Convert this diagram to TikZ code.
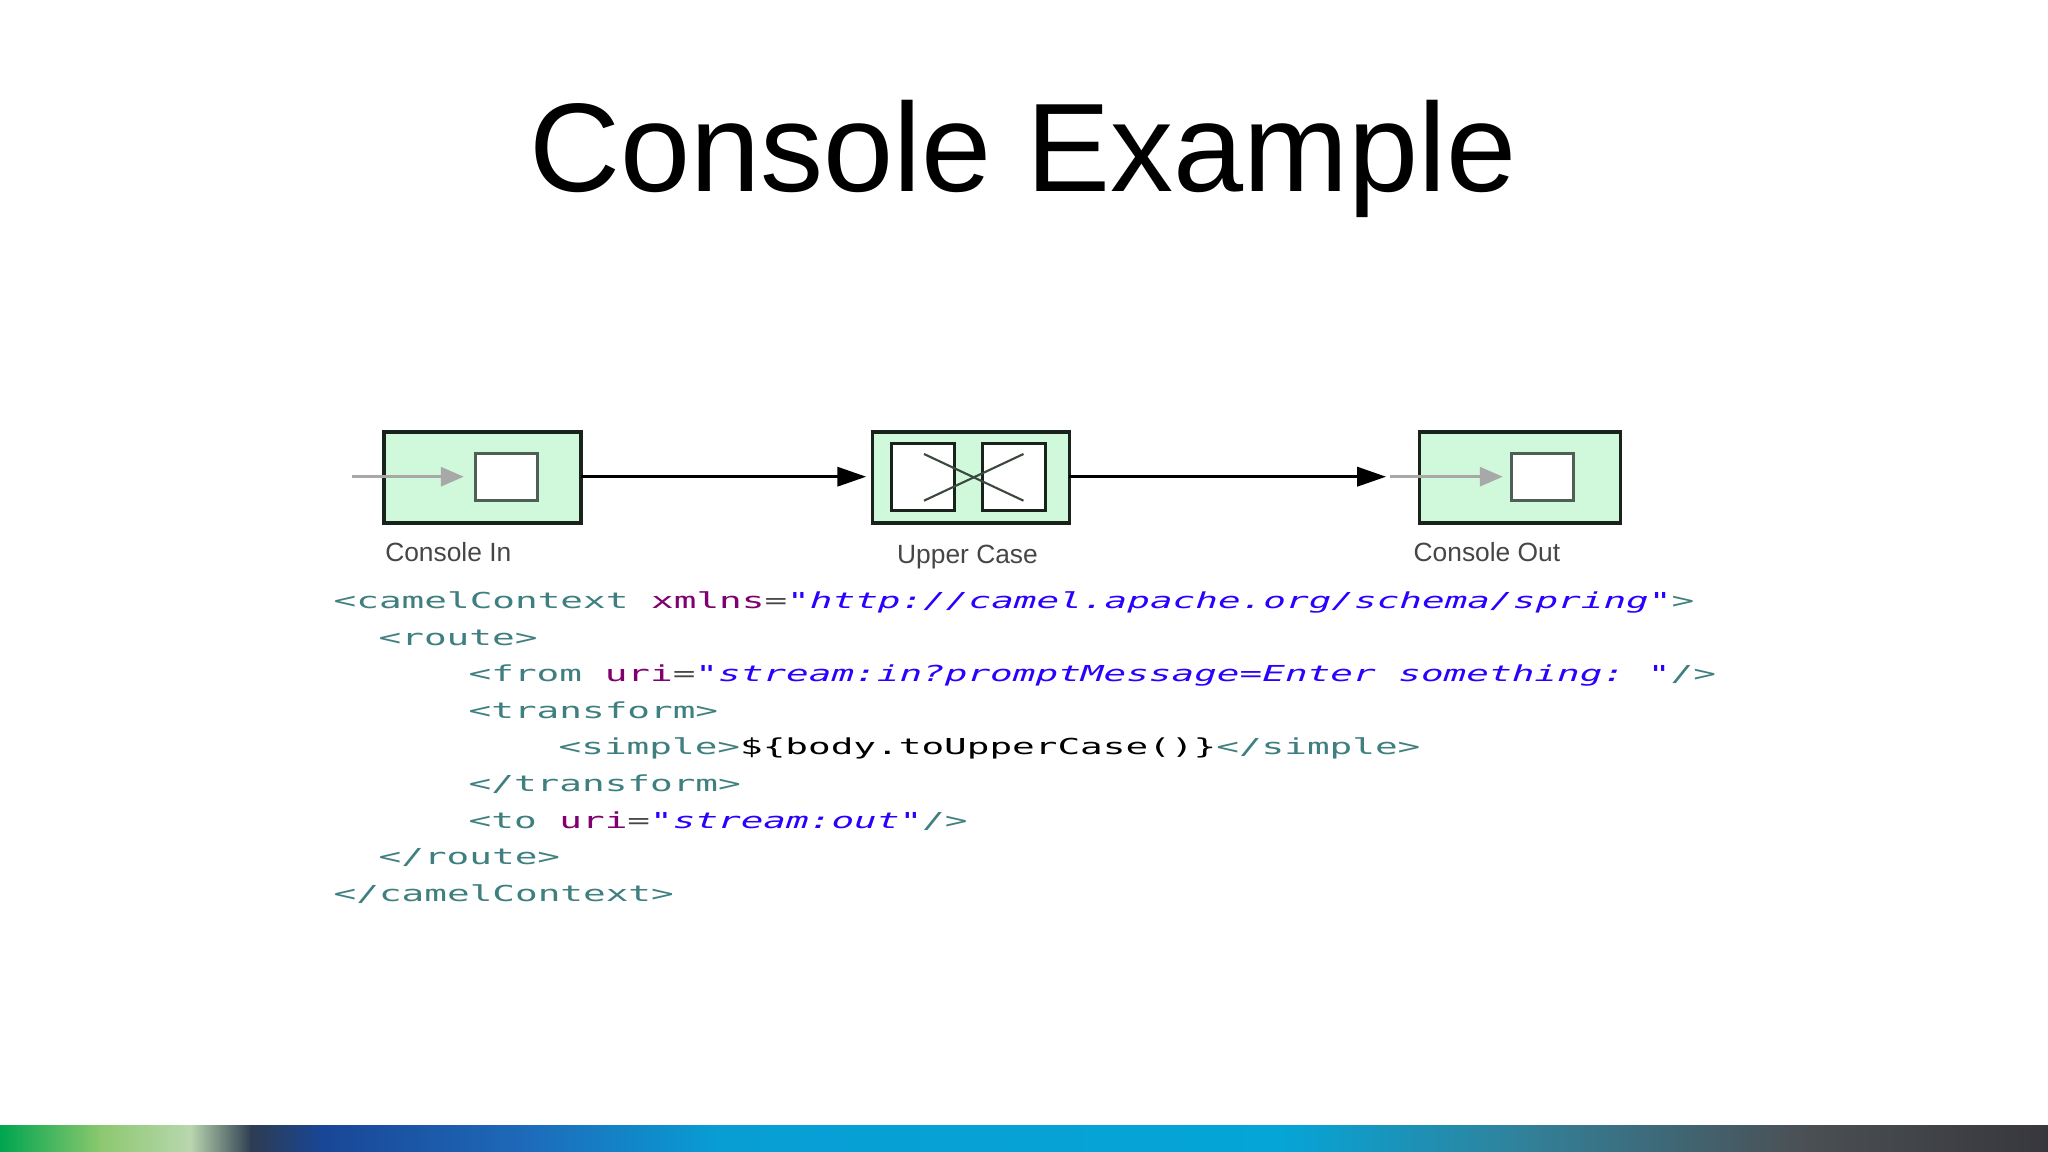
\documentclass[tikz,border=0pt]{standalone}
\usepackage{xcolor}
\usepackage{fontspec}
\setmainfont{Liberation Sans}
\newfontfamily\codefont{DejaVu Sans Mono}[FakeStretch=1.712]
\usepackage{tikz}
\usetikzlibrary{arrows.meta, positioning, calc}
\definecolor{boxgreen}{RGB}{208,249,220}
\definecolor{boxdark}{RGB}{25,35,28}
\definecolor{innergray}{RGB}{80,95,85}
\definecolor{crossgray}{RGB}{60,72,62}
\definecolor{tipgray}{RGB}{168,168,168}
\definecolor{labelgray}{RGB}{70,70,70}
\definecolor{xmltag}{RGB}{63,127,127}
\definecolor{xmlattr}{RGB}{127,0,110}
\definecolor{xmlval}{RGB}{42,0,255}
\definecolor{xmleq}{RGB}{70,70,70}
\definecolor{barA}{RGB}{0,165,80}
\definecolor{barB}{RGB}{140,200,110}
\definecolor{barC}{RGB}{185,215,175}
\definecolor{barD}{RGB}{45,60,80}
\definecolor{barE}{RGB}{25,70,150}
\definecolor{barF}{RGB}{30,105,185}
\definecolor{barG}{RGB}{8,158,212}
\definecolor{barH}{RGB}{5,165,215}
\definecolor{barI}{RGB}{50,128,152}
\definecolor{barJ}{RGB}{75,80,85}
\definecolor{barK}{RGB}{55,55,60}
\tikzset{
  eipbox/.style={rectangle, draw=boxdark, fill=boxgreen, line width=1pt,
    minimum width=1.97cm, minimum height=0.91cm, inner sep=0pt, outer sep=0pt},
  slot/.style={rectangle, draw=innergray, fill=white, line width=0.9pt,
    minimum width=0.62cm, minimum height=0.47cm, inner sep=0pt, outer sep=0pt},
  tslot/.style={rectangle, draw=boxdark, fill=white, line width=0.9pt,
    minimum width=0.63cm, minimum height=0.67cm, inner sep=0pt, outer sep=0pt},
  boxlabel/.style={anchor=base west, inner sep=0pt, text=labelgray,
    font=\fontsize{7.5}{9}\selectfont},
  codeline/.style={anchor=base west, inner sep=0pt,
    font=\codefont\fontsize{6.26}{7.5}\selectfont\frenchspacing},
  flow/.style={-{Triangle[length=0.29cm, width=0.19cm]}, line width=1pt, black},
  feed/.style={-{Triangle[length=0.23cm, width=0.19cm]}, line width=0.9pt, tipgray}
}
\newcommand{\xtag}[1]{\textcolor{xmltag}{#1}}
\newcommand{\xattr}[1]{\textcolor{xmlattr}{#1}}
\newcommand{\xval}[1]{\textcolor{xmlval}{\itshape #1}}
\newcommand{\xeq}{\textcolor{xmleq}{=}}

\begin{document}
\begin{tikzpicture}
  \fill[white] (0,0) rectangle (20.48,-11.52);
  \useasboundingbox (0,0) rectangle (20.48,-11.52);

  % Title
  \node[anchor=base, inner sep=0pt, font=\fontsize{35.85}{40}\selectfont] (title) at (10.23,-1.92) {Console Example};

  % Console In endpoint
  \node[eipbox] (cin) at (4.825,-4.775) {};
  \node[slot] (cinslot) at (5.068,-4.77) {};
  \coordinate (cinfeed) at (3.52,-4.767);
  \draw[feed, shorten >=0.12cm] (cinfeed) -- (cinslot.west |- cinfeed);
  \node[boxlabel] (cinlabel) at (3.846,-5.617) {Console In};

  % Upper Case transformer
  \node[eipbox] (upper) at (9.708,-4.775) {};
  \node[tslot] (upleft) at (9.231,-4.774) {};
  \node[tslot] (upright) at (10.14,-4.774) {};
  \draw[crossgray, line width=0.6pt] (9.24,-4.54) -- (10.235,-5.007);
  \draw[crossgray, line width=0.6pt] (9.24,-5.007) -- (10.235,-4.54);
  \node[boxlabel] (uplabel) at (8.965,-5.64) {Upper Case};

  % Console Out endpoint
  \node[eipbox, minimum width=2.01cm] (cout) at (15.202,-4.775) {};
  \node[slot] (coutslot) at (15.428,-4.77) {};
  \coordinate (coutfeed) at (13.90,-4.767);
  \draw[feed, shorten >=0.09cm] (coutfeed) -- (coutslot.west |- coutfeed);
  \node[boxlabel] (coutlabel) at (14.13,-5.617) {Console Out};

  % Flow between the steps
  \draw[flow, shorten >=0.06cm] (cin.east |- cinfeed) -- (upper.west |- cinfeed);
  \draw[flow, shorten >=0.335cm] (upper.east |- cinfeed) -- (cout.west |- cinfeed);

  % Spring XML route
  \node[codeline] (l1) at (3.33,-6.09) {\xtag{<camelContext} \xattr{xmlns}\xeq\xval{"http://camel.apache.org/schema/spring"}\xtag{>}};
  \node[codeline] (l2) at (3.78,-6.455) {\xtag{<route>}};
  \node[codeline] (l3) at (4.68,-6.82) {\xtag{<from} \xattr{uri}\xeq\xval{"stream:in?promptMessage=Enter something:~"}\xtag{/>}};
  \node[codeline] (l4) at (4.68,-7.185) {\xtag{<transform>}};
  \node[codeline] (l5) at (5.58,-7.55) {\xtag{<simple>}\$\{body.toUpperCase()\}\xtag{</simple>}};
  \node[codeline] (l6) at (4.68,-7.915) {\xtag{</transform>}};
  \node[codeline] (l7) at (4.68,-8.28) {\xtag{<to} \xattr{uri}\xeq\xval{"stream:out"}\xtag{/>}};
  \node[codeline] (l8) at (3.78,-8.645) {\xtag{</route>}};
  \node[codeline] (l9) at (3.33,-9.01) {\xtag{</camelContext>}};

  % Footer band
  \shade[left color=barA, right color=barB] (0,-11.257) rectangle (1.02,-11.52);
  \shade[left color=barB, right color=barC] (1.0,-11.257) rectangle (1.92,-11.52);
  \shade[left color=barC, right color=barD] (1.9,-11.257) rectangle (2.52,-11.52);
  \shade[left color=barD, right color=barE] (2.5,-11.257) rectangle (3.22,-11.52);
  \shade[left color=barE, right color=barF] (3.2,-11.257) rectangle (5.22,-11.52);
  \shade[left color=barF, right color=barG] (5.2,-11.257) rectangle (7.22,-11.52);
  \shade[left color=barG, right color=barH] (7.2,-11.257) rectangle (12.82,-11.52);
  \shade[left color=barH, right color=barI] (12.8,-11.257) rectangle (15.32,-11.52);
  \shade[left color=barI, right color=barJ] (15.3,-11.257) rectangle (18.02,-11.52);
  \shade[left color=barJ, right color=barK] (18.0,-11.257) rectangle (20.48,-11.52);
\end{tikzpicture}
\end{document}
